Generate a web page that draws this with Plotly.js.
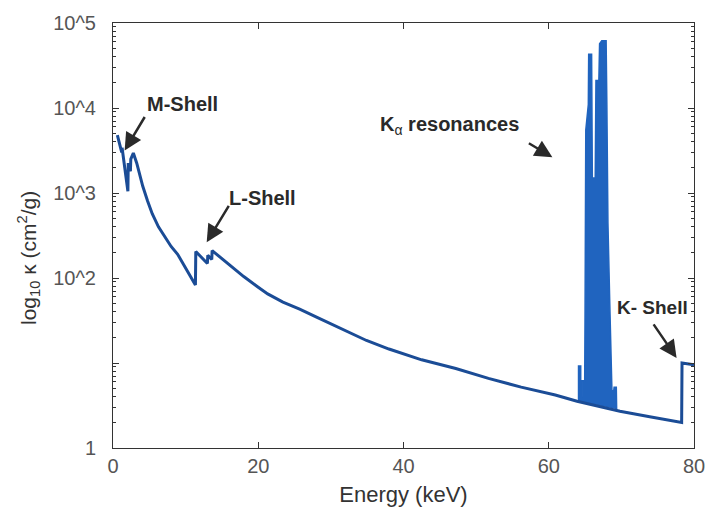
<!DOCTYPE html>
<html><head><meta charset="utf-8">
<script src="https://cdn.plot.ly/plotly-3.0.1.min.js"></script>
<style>html,body{margin:0;padding:0;background:#fff}#chart{width:708px;height:514px}</style>
</head><body><div id="chart"></div>
<script>
// Continuum opacity (cm^2/g) vs photon energy (keV)
const energyKeV = [0.6, 1.2, 1.25, 2.05, 2.1, 2.4, 2.45, 2.8, 3.27, 3.7, 4.1, 4.75, 5.4, 6.26, 7.15, 8.0, 8.9, 9.7, 10.7, 11.35, 11.4, 13.0, 13.05, 13.6, 13.65, 15.3, 16.6, 18.0, 19.9, 21.3, 23.4, 25.7, 28.1, 30.2, 34.9, 38.0, 42.5, 47.2, 51.7, 56.2, 60.9, 63.9, 69.8, 73.9, 78.3, 78.35, 80.0];
const kappa     = [4800, 3000, 3400, 1050, 2250, 1800, 2500, 2950, 2240, 1570, 1200, 810, 570, 400, 310, 235, 190, 145, 105, 83, 205, 148, 185, 165, 210, 160, 130, 104, 79, 65, 52, 43, 34.4, 28.5, 18.4, 14.6, 10.9, 8.6, 6.6, 5.2, 4.2, 3.55, 2.7, 2.33, 2.0, 10, 9.5];

// K-alpha resonance envelope
const resEnergyKeV = [63.9, 64.1, 64.1, 64.4, 64.4, 64.6, 64.6, 64.95, 65.0, 65.1, 65.45, 65.5, 65.9, 66.0, 66.4, 66.5, 66.9, 67.0, 67.3, 67.9, 68.0, 68.05, 68.15, 68.4, 68.6, 68.7, 68.95, 69.0, 69.3, 69.35];
const resKappa     = [3.6, 3.6, 9.2, 9.2, 4.0, 4.0, 6.2, 6.2, 40, 5500, 11000, 43000, 43000, 1500, 1500, 21000, 21000, 57000, 62000, 62000, 11000, 2400, 440, 50, 15, 4.7, 4.7, 5.2, 5.2, 2.85];

const xTickVals = [0, 20, 40, 60, 80];
const yTickVals = [1, 10, 100, 1000, 10000, 100000];
const yTickText = ['1', '', '10^2', '10^3', '10^4', '10^5'];

const yMinor = [];
for (let d = 0; d < 5; d++) for (let k = 2; k <= 9; k++) yMinor.push(k * Math.pow(10, d));

const lineColor = '#1b4c96';
const fillColor = '#2064bf';
const FAM = 'Liberation Sans, Arial, sans-serif';
const tickFont = {family: FAM, size: 20, color: '#555'};

const traces = [
  {x: resEnergyKeV, y: resKappa, mode: 'lines', fill: 'toself', fillcolor: fillColor,
   line: {color: fillColor, width: 1.5}, hoverinfo: 'skip', showlegend: false},
  {x: energyKeV, y: kappa, mode: 'lines', line: {color: lineColor, width: 3}, showlegend: false}
];

const W = 708, H = 514, L = 113, R = 14, T = 23, B = 66;
const pw = W - L - R, ph = H - T - B;
const px = x => (x - L) / pw;
const py = y => (H - B - y) / ph;

const arrow = (x, y, ax, ay) => ({x: x, y: y, xref: 'x', yref: 'y', text: '', showarrow: true, ax: ax, ay: ay,
  arrowhead: 2, arrowsize: 1.4, arrowwidth: 2.5, arrowcolor: '#2a2a2a'});
const label = (x, y, text, size) => ({xref: 'paper', yref: 'paper', x: px(x), y: py(y), xanchor: 'center', yanchor: 'middle',
  text: text, showarrow: false, font: {family: FAM, size: size, color: '#2a2a2a'}});

const layout = {
  width: W, height: H,
  margin: {l: L, r: R, t: T, b: B},
  paper_bgcolor: '#fff', plot_bgcolor: '#fff',
  showlegend: false,
  xaxis: {
    range: [0, 80], tickvals: xTickVals, ticks: 'inside', ticklen: 6, tickcolor: '#333',
    showline: true, linecolor: '#333', linewidth: 1, mirror: 'ticks', showgrid: false, zeroline: false,
    tickfont: tickFont,
    title: {text: 'Energy (keV)', font: {family: FAM, size: 22, color: '#333'}, standoff: 10}
  },
  yaxis: {
    type: 'log', range: [0, 5], tickvals: yTickVals, ticktext: yTickText,
    ticks: 'inside', ticklen: 6, tickcolor: '#333',
    minor: {tickmode: 'array', tickvals: yMinor, ticks: 'inside', ticklen: 3, tickcolor: '#333', showgrid: false},
    showline: true, linecolor: '#333', linewidth: 1, mirror: 'ticks', showgrid: false, zeroline: false,
    tickfont: tickFont, ticklabelstandoff: 12
  },
  annotations: [
    {xref: 'paper', yref: 'paper', x: px(28), y: py(258), xanchor: 'center', yanchor: 'middle',
     text: 'log<sub>10</sub> κ (cm<sup>2</sup>/g)', textangle: -90,
     showarrow: false, font: {family: FAM, size: 21, color: '#333'}},
    label(182, 104, '<b>M-Shell</b>', 20),
    label(262, 198, '<b>L-Shell</b>', 20),
    label(449, 126, '<b>K</b><sub>α</sub><b> resonances</b>', 20),
    label(652, 307, '<b>K- Shell</b>', 19),
    arrow(1.6, 3.5, 21, -35),
    arrow(12.9, 2.42, 23, -38),
    arrow(60.5, 3.42, -25, -15),
    arrow(77.6, 1.06, -24, -35)
  ]
};

Plotly.newPlot('chart', traces, layout, {displayModeBar: false, staticPlot: true});
</script>
</body></html>
